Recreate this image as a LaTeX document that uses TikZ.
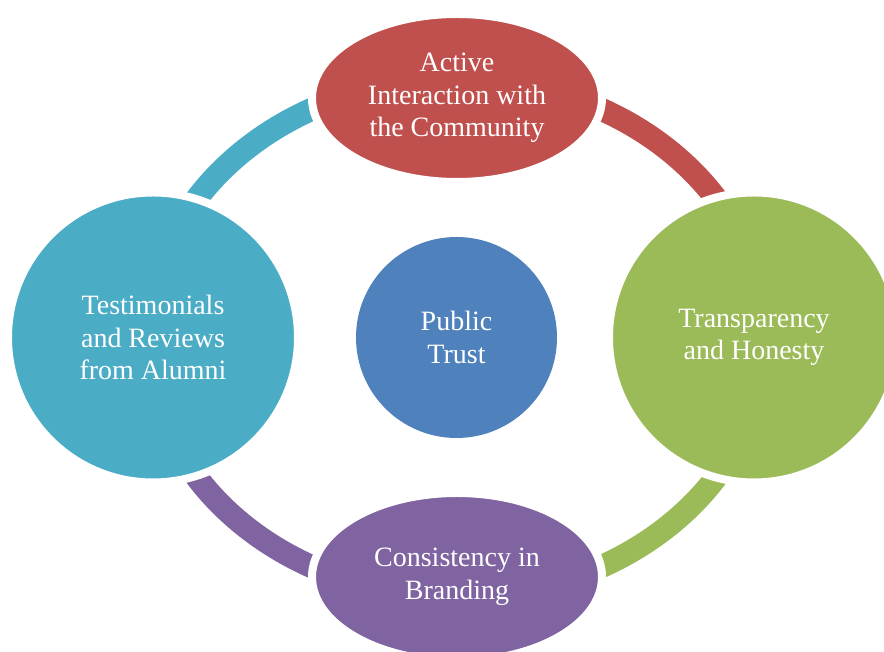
\documentclass[tikz,border=0pt]{standalone}
\usepackage{fontspec}
\setmainfont{Liberation Serif}
\usetikzlibrary{calc,shapes.geometric}
\definecolor{cRed}{HTML}{C0504D}
\definecolor{cGreen}{HTML}{9BBB59}
\definecolor{cPurple}{HTML}{8064A2}
\definecolor{cTeal}{HTML}{4BACC6}
\definecolor{cBlue}{HTML}{4F81BD}
\begin{document}
\begin{tikzpicture}[x=1pt,y=1pt,
  ringarc/.style={line width=23pt},
  lbl/.style={text=white,align=center,font=\fontsize{28}{32.5}\selectfont,inner sep=0pt},
  outernode/.style={lbl,draw=white,line width=8pt},
  ovalnode/.style={outernode,ellipse,minimum width=290pt,minimum height=168pt},
  roundnode/.style={outernode,circle,minimum size=290pt},
]
\useasboundingbox (0,0) rectangle (884,652);
\coordinate (ring) at (456.5,314);
% ring arcs
\draw[ringarc,cTeal]   ($(ring)+(0,259)$) arc (90:180:308 and 259);
\draw[ringarc,cRed]    ($(ring)+(308,0)$) arc (0:90:308 and 259);
\draw[ringarc,cGreen]  ($(ring)+(0,-259)$) arc (270:360:308 and 259);
\draw[ringarc,cPurple] ($(ring)+(-308,0)$) arc (180:270:308 and 259);
% nodes
\node[ovalnode,fill=cRed] (top) at (457,554) {Active\\Interaction with\\the Community};
\node[ovalnode,fill=cPurple] (bottom) at (457,75) {Consistency in\\Branding};
\node[roundnode,fill=cTeal] (left) at (153,314.5) {Testimonials\\and Reviews\\from Alumni};
\node[roundnode,fill=cGreen] (right) at (754,314.5) {Transparency\\and Honesty};
\node[lbl,circle,fill=cBlue,minimum size=201pt] (center) at (456.5,314.5) {Public\\Trust};
\end{tikzpicture}
\end{document}
